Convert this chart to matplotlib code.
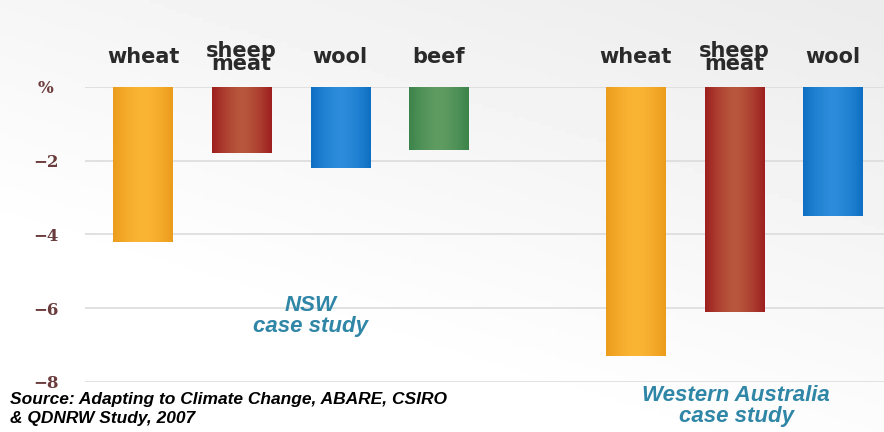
import matplotlib
matplotlib.use("Agg")
import matplotlib.pyplot as plt
import numpy as np
from matplotlib.colors import LinearSegmentedColormap

# per-bar data: position on the x axis, label, change in %
positions = [0, 1, 2, 3, 5, 6, 7]
products = ["wheat", "sheep\nmeat", "wool", "beef", "wheat", "sheep\nmeat", "wool"]
changes = [-4.2, -1.8, -2.2, -1.7, -7.3, -6.1, -3.5]
yticks = [0, -2, -4, -6, -8]
yticklabels = ["%", "\u22122", "\u22124", "\u22126", "\u22128"]

# (edge colour, centre colour) for each product
shades = {
    "wheat": ("#ec9c1c", "#fbb535"),
    "sheep\nmeat": ("#9e1f1f", "#b8573d"),
    "wool": ("#0f6fc2", "#2d8ddc"),
    "beef": ("#3c844a", "#5f9c62"),
}

fig = plt.figure(figsize=(8.84, 4.32), dpi=100)

# soft grey wash behind everything
bg = fig.add_axes([0, 0, 1, 1], zorder=-10)
gx, gy = np.meshgrid(np.linspace(0, 1, 200), np.linspace(0, 1, 100))
wash = np.clip(0.55 * gy + 0.35 * gx - 0.25, 0, 1) * 0.12
bg.imshow(1 - wash, cmap="gray", vmin=0, vmax=1, extent=[0, 1, 0, 1],
          aspect="auto", origin="lower")
bg.axis("off")

ax = fig.add_axes([0.096, 0.116, 0.904, 0.683])
ax.patch.set_alpha(0)
ax.set_xlim(-0.59, 7.52)
ax.set_ylim(-8, 0)

for y in yticks:
    ax.axhline(y, color="#dcdcdc", lw=1.2, zorder=1)

bars = ax.bar(positions, changes, width=0.6, color="none", zorder=2)
grad = np.abs(np.linspace(-1, 1, 64)) ** 1.5
for rect, name in zip(bars, products):
    cmap = LinearSegmentedColormap.from_list("s", [shades[name][1], shades[name][0]])
    x0 = rect.get_x()
    x1 = x0 + rect.get_width()
    im = ax.imshow(grad[None, :], cmap=cmap, vmin=0, vmax=1, aspect="auto",
                   extent=[x0, x1, rect.get_y() + rect.get_height(), rect.get_y()],
                   zorder=2)
    im.set_clip_path(rect)
    rect.set_facecolor(shades[name][0])
    rect.set_zorder(1.5)

for x, name in zip(positions, products):
    ax.text(x, 0.8, name, ha="center", va="center", fontsize=15,
            fontweight="bold", color="#2a2a2a", linespacing=0.55,
            family="DejaVu Sans", clip_on=False)

ax.set_yticks(yticks)
ax.set_yticklabels(yticklabels, family="DejaVu Serif", fontsize=12,
                   fontweight="bold", color="#6b3c3c")
ax.tick_params(axis="y", length=0, pad=28)
for t in ax.get_yticklabels():
    t.set_horizontalalignment("center")
ax.set_xticks([])
for s in ax.spines.values():
    s.set_visible(False)

ax.text(1.7, -6.2, "NSW\ncase study", ha="center", va="center", fontsize=16,
        fontweight="bold", style="italic", color="#2f86a6",
        family="Liberation Sans", linespacing=1.0)
ax.text(6.02, -8.65, "Western Australia\ncase study", ha="center", va="center",
        fontsize=16, fontweight="bold", style="italic", color="#2f86a6",
        family="Liberation Sans", linespacing=1.0, clip_on=False)

fig.text(0.011, 0.053, "Source: Adapting to Climate Change, ABARE, CSIRO\n& QDNRW Study, 2007",
         ha="left", va="center", fontsize=12.5, fontweight="bold", style="italic",
         color="black", family="Liberation Sans", linespacing=1.3)

fig.savefig("out.png", dpi=100)
